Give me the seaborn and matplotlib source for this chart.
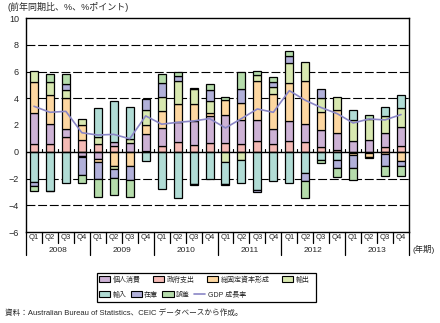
import numpy as np
import matplotlib
matplotlib.use("Agg")
import matplotlib.pyplot as plt
import seaborn as sns
from matplotlib.patches import Rectangle, Patch
from matplotlib.lines import Line2D
from matplotlib import transforms

# ---------------- data ----------------
years = ["2008", "2009", "2010", "2011", "2012", "2013"]
quarters = ["Q1", "Q2", "Q3", "Q4"]

consumption = [2.3, 1.5, 0.6, -0.3, -0.55, 0.32, 0.68, 1.28, 1.33, 1.55, 1.8, 2.03,
               2.16, 1.8, 1.57, 1.12, 1.5, 1.34, 1.25, 1.27, 0.82, 0.85, 1.08, 1.41]
government = [0.6, 0.55, 1.07, 0.88, 0.58, 0.43, 0.0, 0.07, 0.45, 0.7, 0.5, 0.65,
              0.62, 0.55, 0.77, 0.55, 0.77, 0.7, 0.37, 0.13, -0.07, -0.07, 0.33, 0.45]
gfcf = [2.33, 2.16, 2.36, 1.12, -0.2, -1.05, -1.07, 0.68, 1.3, 1.35, 1.3, 0.22,
        1.07, 1.27, 2.97, 2.68, 2.9, 3.28, 1.34, 1.71, -0.2, -0.3, -0.17, -0.68]
exports = [0.82, 1.04, 0.62, 0.47, 0.55, -0.25, 0.3, 1.1, 1.0, 1.72, 1.06, 0.93,
           -0.8, -0.65, 0.45, 0.5, 1.5, 1.41, 1.03, 0.95, 1.56, 1.6, 1.3, 1.41]
imports = [-2.28, -2.9, -2.36, -0.07, 2.15, 3.05, 2.4, -0.72, -2.8, -3.45, -2.4, -2.0,
           -1.6, -1.65, -2.88, -2.2, -2.36, -1.6, -0.6, -0.6, 0.75, 0.0, 0.66, 0.97]
inventory = [-0.3, -0.07, 0.45, -1.38, -1.3, -0.67, -1.05, 0.8, 1.05, 0.38, 0.07, 0.75,
             -0.07, 1.05, -0.13, 0.38, 0.52, -0.55, 0.67, -0.62, -0.95, -0.12, -0.88, -0.38]
errors = [-0.35, 0.6, 0.75, -0.6, -1.3, -1.25, -1.3, 0.0, 0.7, 0.28, -0.07, 0.52,
          0.25, 1.28, 0.28, 0.37, 0.37, -1.32, -0.22, -0.68, -0.9, 0.3, -0.75, -0.72]
gdp = [3.4, 2.95, 3.02, 1.42, 1.25, 1.3, 0.97, 2.68, 2.06, 2.2, 2.3, 2.48,
       1.78, 2.48, 3.2, 2.95, 4.57, 3.85, 3.3, 2.85, 2.15, 2.45, 2.38, 2.78]

names = {"consumption": "個人消費", "government": "政府支出", "gfcf": "総固定資本形成",
         "exports": "輸出", "imports": "輸入", "inventory": "在庫", "errors": "誤差",
         "gdp": "GDP 成長率"}
colors = {"consumption": "#cdb2d5", "government": "#f4bab5", "gfcf": "#fdd7a1",
          "exports": "#d8e8b0", "imports": "#b1dcd5", "inventory": "#b1b0d9",
          "errors": "#b5dcab", "gdp": "#8a86c6"}

# ---------------- style ----------------
sns.set_style("white")
plt.rcParams['font.family'] = ['Liberation Sans', 'Noto Sans CJK JP']

W, H = 440, 323
fig = plt.figure(figsize=(W / 100, H / 100), dpi=100)
ax = fig.add_axes([26 / W, 1 - 232 / H, 383 / W, 214 / H])

x = np.arange(len(gdp))
stack = [("government", government), ("consumption", consumption), ("gfcf", gfcf),
         ("exports", exports), ("imports", imports), ("inventory", inventory),
         ("errors", errors)]
pos_b = np.zeros(len(x))
neg_b = np.zeros(len(x))
for key, vals in stack:
    v = np.array(vals, dtype=float)
    mp = v > 0
    mn = v < 0
    ax.bar(x[mp], v[mp], bottom=pos_b[mp], width=0.5, color=colors[key],
           edgecolor="black", linewidth=0.9, zorder=2)
    ax.bar(x[mn], v[mn], bottom=neg_b[mn], width=0.5, color=colors[key],
           edgecolor="black", linewidth=0.9, zorder=2)
    pos_b += np.where(mp, v, 0)
    neg_b += np.where(mn, v, 0)

sns.lineplot(x=x, y=gdp, ax=ax, color=colors["gdp"], linewidth=1.2, zorder=3)

ax.set_xlim(-0.5, len(x) - 0.5)
ax.set_ylim(-6, 10)
ax.set_yticks(np.arange(-6, 11, 2))
ax.set_xticks([])
ax.tick_params(axis="y", direction="out", length=3, width=0.8, labelsize=6.5, pad=2)
for s in ax.spines.values():
    s.set_color("black")
    s.set_linewidth(1.0)
for g in [-4, -2, 4, 6, 8]:
    ax.axhline(g, color="black", linewidth=0.8, linestyle=(0, (8, 2.5)), zorder=1)
ax.axhline(0, color="black", linewidth=1.0, zorder=4)
# small ticks on the zero line between categories
for b in np.arange(0.5, len(x) - 1, 1.0):
    ax.plot([b, b], [0, 0.2], color="black", linewidth=0.8, zorder=4)

# ---------------- category axis labels ----------------
tr = transforms.blended_transform_factory(ax.transData, ax.transAxes)
labels_q = [q for _ in years for q in quarters]
for i, q in enumerate(labels_q):
    ax.text(i, -0.027, q, transform=tr, ha="center", va="center", fontsize=5.5)
for b in np.arange(-0.5, len(x) + 0.5, 1.0):
    ybot = -0.107 if (b + 0.5) % 4 == 0 else -0.051
    ax.add_line(Line2D([b, b], [0, ybot], transform=tr, color="black",
                       linewidth=0.9, clip_on=False))
for k, yname in enumerate(years):
    ax.text(4 * k + 1.5, -0.088, yname, transform=tr, ha="center", va="center",
            fontsize=6)

fig.text(412 / W, 1 - 249 / H, "(年期)", ha="left", va="center", fontsize=6)
fig.text(7 / W, 1 - 7 / H, "(前年同期比、%、%ポイント)", ha="left", va="center",
         fontsize=6.5)

# ---------------- legend ----------------
row1 = ["consumption", "government", "gfcf", "exports"]
row2 = ["imports", "inventory", "errors"]
h1 = [Patch(facecolor=colors[k], edgecolor="black", linewidth=0.8) for k in row1]
h2 = [Patch(facecolor=colors[k], edgecolor="black", linewidth=0.8) for k in row2]
h2.append(Line2D([], [], color=colors["gdp"], linewidth=1.2))
common = dict(ncol=4, frameon=False, fontsize=5, handlelength=1.6, handleheight=1.0,
              handletextpad=0.35, borderpad=0, borderaxespad=0, loc="center left")
fig.legend(h1, [names[k] for k in row1], bbox_to_anchor=(99 / W, 1 - 280 / H),
           columnspacing=1.8, **common)
fig.legend(h2, [names[k] for k in row2] + [names["gdp"]],
           bbox_to_anchor=(99 / W, 1 - 295 / H), columnspacing=0.6, **common)
fig.patches.append(Rectangle((97 / W, 1 - 302 / H), 219 / W, 29 / H,
                             transform=fig.transFigure, fill=False,
                             edgecolor="black", linewidth=0.9))

fig.text(5 / W, 1 - 313 / H,
         "資料：Australian Bureau of Statistics、CEIC データベースから作成。",
         ha="left", va="center", fontsize=5.5)

fig.savefig("out.png", dpi=100)
